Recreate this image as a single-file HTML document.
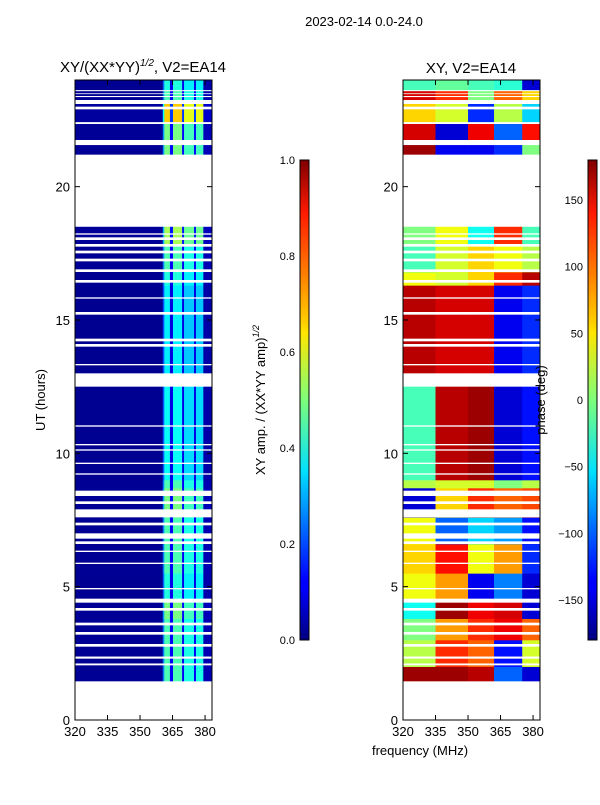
<!DOCTYPE html>
<html><head><meta charset="utf-8"><style>
body{margin:0;background:#fff;}
svg text{font-family:"Liberation Sans",sans-serif;fill:#000;}
</style></head><body>
<svg id="fig" width="600" height="800" viewBox="0 0 600 800" xmlns="http://www.w3.org/2000/svg">
<defs>
<linearGradient id="jet" x1="0" y1="1" x2="0" y2="0">
<stop offset="0" stop-color="#00007f"/><stop offset="0.11" stop-color="#0000ff"/><stop offset="0.125" stop-color="#0000ff"/>
<stop offset="0.34" stop-color="#00d4ff"/><stop offset="0.35" stop-color="#00e0ff"/><stop offset="0.5" stop-color="#7dff7a"/>
<stop offset="0.64" stop-color="#ffe600"/><stop offset="0.66" stop-color="#ffd000"/><stop offset="0.89" stop-color="#ff1a00"/><stop offset="1" stop-color="#7f0000"/>
</linearGradient>
</defs>
<text x="364" y="26" font-size="13" text-anchor="middle">2023-02-14 0.0-24.0</text>
<text x="143" y="72" font-size="15" text-anchor="middle">XY/(XX*YY)<tspan dy="-6" font-size="10" font-style="italic">1/2</tspan><tspan dy="6">, V2=EA14</tspan></text>
<text x="471" y="73" font-size="15" text-anchor="middle">XY, V2=EA14</text>
<g id="leftHeat"></g>
<g id="rightHeat"></g>
<g id="axes"></g>
<text transform="translate(45,400) rotate(-90)" font-size="13" text-anchor="middle">UT (hours)</text>
<text x="420" y="755" font-size="13" text-anchor="middle">frequency (MHz)</text>
<text transform="translate(265,400) rotate(-90)" font-size="13" text-anchor="middle">XY amp. / (XX*YY amp)<tspan dy="-6" font-size="9" font-style="italic">1/2</tspan></text>
<text transform="translate(545,400) rotate(-90)" font-size="13" text-anchor="middle">phase (deg)</text>
<rect x="300" y="160" width="9" height="480" fill="url(#jet)" stroke="#000" stroke-width="1"/>
<rect x="588" y="160" width="9" height="480" fill="url(#jet)" stroke="#000" stroke-width="1"/>
</svg>
<script>
// ---- data ----
const freqEdges = [320,360.5,361.2,363.8,365.2,369.4,370.3,374.9,375.8,379.2,383.2];
const ampFreq = [0.02,0.25,0.45,0.12,0.45,0.12,0.4,0.12,0.4,0.05];
const bandStart = [1.45,2.0,3.0,3.8,4.5,5.5,6.6,7.6,8.7,9.0,13.0,16.3,16.8,17.8,21.2,21.75,22.4,23.25,23.6];
const bandEnd   = [2.0,3.0,3.8,4.5,5.5,6.6,7.6,8.7,9.0,13.0,16.3,16.8,17.8,18.5,21.75,22.4,23.25,23.6,24.0];
const ampScale  = [1.0,1.0,1.0,1.1,0.9,1.0,1.0,1.1,1.0,0.85,0.8,0.9,1.0,1.2,1.1,1.1,1.5,1.0,0.9];
const phaseSegEdges = [320,335,350,362,375,383.2];
const phaseA = [170,20,0,-40,40,60,40,-150,20,-20,160,40,-20,0,170,150,60,150,-20];
const phaseB = [170,120,80,170,80,130,-100,60,30,160,150,30,30,40,-140,-150,30,120,-10];
const phaseC = [160,100,120,140,-140,40,-60,120,30,170,150,60,60,-40,-140,140,-120,0,-20];
const phaseD = [-100,-130,140,150,-90,80,-80,100,0,-150,-140,120,40,120,-120,-100,20,100,-30];
const phaseE = [-150,30,100,-150,-150,-120,-130,110,20,-130,-120,160,20,-20,0,130,-60,60,-150];
const gapStart = [0,2.05,2.3,2.75,3.2,3.55,4.1,4.4,4.9,5.85,6.3,6.6,6.8,7.3,7.6,8.1,8.4,9.2,9.6,10.1,10.3,11.0,12.5,13.3,14.0,14.2,15.2,15.8,16.4,16.8,17.2,17.5,17.75,18.0,18.2,18.5,21.56,22.35,22.9,23.1,23.36,23.47,23.58];
const gapEnd   = [1.45,2.12,2.38,2.85,3.3,3.65,4.2,4.55,4.95,5.9,6.35,6.7,7.0,7.4,7.9,8.2,8.6,9.25,9.65,10.15,10.35,11.05,13.0,13.35,14.1,14.3,15.3,15.85,16.5,16.9,17.3,17.6,17.85,18.1,18.25,21.2,21.75,22.42,23.0,23.25,23.4,23.5,23.62];
const yTicks = [0,5,10,15,20];
const xTicks = [320,335,350,365,380];
const ampTicks = [0.0,0.2,0.4,0.6,0.8,1.0];
const phaseTicks = [-150,-100,-50,0,50,100,150];

// ---- scales ----
const NS="http://www.w3.org/2000/svg";
const yS = h => 720 - h*(640/24);
const xL = f => 75 + (f-320)*(137/63.2);
const xR = f => 403 + (f-320)*(137/63.2);
function jet(v){v=Math.max(0,Math.min(1,v));
 const r=Math.max(0,Math.min(1,1.5-Math.abs(4*v-3))),g=Math.max(0,Math.min(1,1.5-Math.abs(4*v-2))),b=Math.max(0,Math.min(1,1.5-Math.abs(4*v-1)));
 return `rgb(${Math.round(r*255)},${Math.round(g*255)},${Math.round(b*255)})`;}
function mk(p,tag,a){const e=document.createElementNS(NS,tag);for(const k in a)e.setAttribute(k,a[k]);p.appendChild(e);return e;}
const L=document.getElementById('leftHeat'),R=document.getElementById('rightHeat'),A=document.getElementById('axes');
const phases=[phaseA,phaseB,phaseC,phaseD,phaseE];
for(let b=0;b<bandStart.length;b++){
 const y0=yS(bandEnd[b]),y1=yS(bandStart[b]);
 for(let i=0;i<ampFreq.length;i++){
  const r=mk(L,'rect',{x:xL(freqEdges[i]),y:y0,width:xL(freqEdges[i+1])-xL(freqEdges[i])+0.3,height:y1-y0+0.3,fill:jet(ampFreq[i]*ampScale[b])});
  
  
 }
 for(let s=0;s<5;s++){
  const r=mk(R,'rect',{x:xR(phaseSegEdges[s]),y:y0,width:xR(phaseSegEdges[s+1])-xR(phaseSegEdges[s])+0.3,height:y1-y0+0.3,fill:jet((phases[s][b]+180)/360)});
  
  
 }
}
for(let g=0;g<gapStart.length;g++){
 for(const [P,xs] of [[L,xL],[R,xR]]){
  const r=mk(P,'rect',{x:xs(320),y:yS(gapEnd[g]),width:137,height:yS(gapStart[g])-yS(gapEnd[g]),fill:'#fff'});
  
  
 }
}
for(const [x0,xs] of [[75,xL],[403,xR]]){
 const fr=mk(A,'rect',{x:x0,y:80,width:137,height:640,fill:'none',stroke:'#000','stroke-width':1});
 
 
 for(const t of yTicks){
  mk(A,'line',{x1:x0,x2:x0+5,y1:yS(t),y2:yS(t),stroke:'#000'});
  mk(A,'line',{x1:x0+137,x2:x0+132,y1:yS(t),y2:yS(t),stroke:'#000'});
  const tx=mk(A,'text',{x:x0-5,y:yS(t)+5,'font-size':13,'text-anchor':'end'});tx.textContent=t;
  
  
 }
 for(const t of xTicks){
  mk(A,'line',{x1:xs(t),x2:xs(t),y1:720,y2:715,stroke:'#000'});
  mk(A,'line',{x1:xs(t),x2:xs(t),y1:80,y2:85,stroke:'#000'});
  const tx=mk(A,'text',{x:xs(t),y:736,'font-size':13,'text-anchor':'middle'});tx.textContent=t;
  
  
 }
}
for(const t of ampTicks){
 const y=640-t*480;
 mk(A,'line',{x1:305,x2:309,y1:y,y2:y,stroke:'#000'});
 const tx=mk(A,'text',{x:295,y:y+4,'font-size':11,'text-anchor':'end'});tx.textContent=t.toFixed(1);
 
 
}
for(const t of phaseTicks){
 const y=400-t*(480/360);
 mk(A,'line',{x1:593,x2:597,y1:y,y2:y,stroke:'#000'});
 const tx=mk(A,'text',{x:583,y:y+4,'font-size':11,'text-anchor':'end'});tx.textContent=t===0?'0':(t<0?'\u2212'+(-t):t);
 
 
}
</script>
</body></html>
